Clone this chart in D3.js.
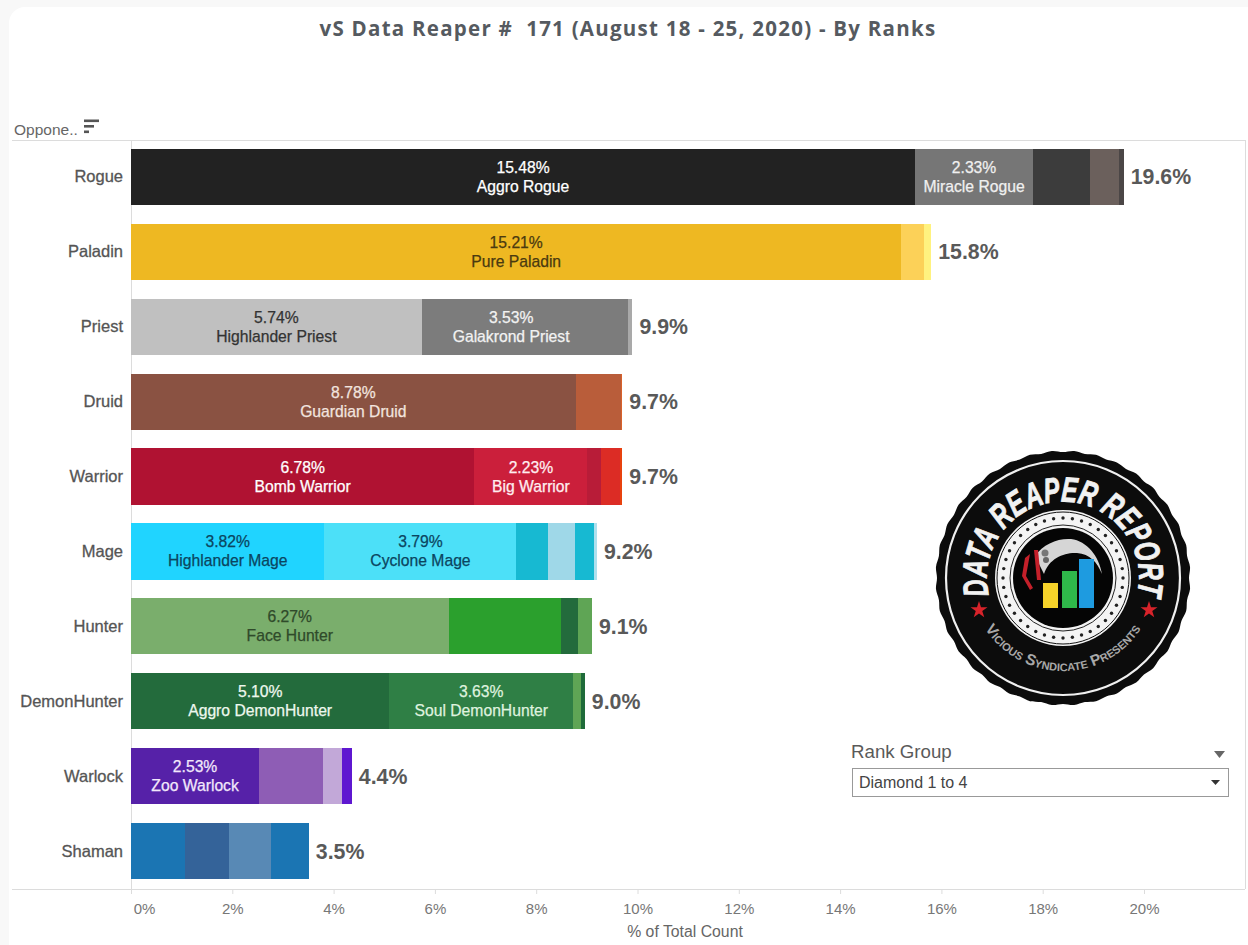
<!DOCTYPE html>
<html>
<head>
<meta charset="utf-8">
<script src="https://cdn.jsdelivr.net/npm/d3@7/dist/d3.min.js"></script>
<style>
  html, body { margin: 0; padding: 0; background: #f8f8f8; overflow: hidden; }
  svg { display: block; }
  text { font-family: "Liberation Sans", Arial, sans-serif; }
</style>
</head>
<body>
<svg id="chart" width="1248" height="945"></svg>
<script>
// Opponent classes, largest share first
const classes = ["Rogue", "Paladin", "Priest", "Druid", "Warrior", "Mage", "Hunter", "DemonHunter", "Warlock", "Shaman"];

// Share of games (%) of each archetype within a class
const rogueShares = [15.48, 2.33, 1.13, 0.56, 0.10];
const paladinShares = [15.21, 0.45, 0.14];
const priestShares = [5.74, 3.53, 0.54, 0.09];
const druidShares = [8.78, 0.89, 0.03];
const warriorShares = [6.78, 2.23, 0.26, 0.39, 0.04];
const mageShares = [3.82, 3.79, 0.63, 0.53, 0.38, 0.05];
const hunterShares = [6.27, 2.22, 0.34, 0.27];
const demonHunterShares = [5.10, 3.63, 0.16, 0.07];
const warlockShares = [2.53, 1.26, 0.37, 0.20];
const shamanShares = [1.06, 0.88, 0.82, 0.75];
const sharesByClass = [rogueShares, paladinShares, priestShares, druidShares, warriorShares,
                       mageShares, hunterShares, demonHunterShares, warlockShares, shamanShares];

// Named archetypes, in stacking order; unnamed segments carry no label
const archetypeNames = [
  ["Aggro Rogue", "Miracle Rogue"],
  ["Pure Paladin"],
  ["Highlander Priest", "Galakrond Priest"],
  ["Guardian Druid"],
  ["Bomb Warrior", "Big Warrior"],
  ["Highlander Mage", "Cyclone Mage"],
  ["Face Hunter"],
  ["Aggro DemonHunter", "Soul DemonHunter"],
  ["Zoo Warlock"],
  []
];

const xTicks = [0, 2, 4, 6, 8, 10, 12, 14, 16, 18, 20];

// Segment fills per class
const segmentColors = [
  ["#222222", "#767676", "#3c3c3c", "#6b605c", "#4b4646"],
  ["#eeb822", "#fcd158", "#fff27f"],
  ["#c0c0c0", "#7c7c7c", "#7c7c7c", "#a9a9a9"],
  ["#8a5242", "#b95d3a", "#d9622b"],
  ["#b01232", "#cb1f3b", "#b81c38", "#dc2c25", "#e8420e"],
  ["#20d4ff", "#4ce0f8", "#17b9d2", "#9fd8e8", "#17b9d2", "#aee0ee"],
  ["#7aae6c", "#2ba02d", "#236b3c", "#5fa555"],
  ["#236b3c", "#2f7f45", "#5fa555", "#1f6b3a"],
  ["#5621a8", "#8e5db5", "#c2a8d8", "#5e17d0"],
  ["#1b75b3", "#346399", "#5889b5", "#1b75b3"]
];
// Label ink per class/segment
const labelColors = [
  ["#ffffff", "#f0f0f0"], ["#4a3a10"], ["#333333", "#f2f2f2"], ["#f2e4df"],
  ["#ffffff", "#ffeef0"], ["#0b4560", "#0b4560"], ["#2f4a2a"],
  ["#eef8ee", "#dff2df"], ["#f2e8fb"], []
];

const svg = d3.select("#chart");

// Page card
svg.append("rect").attr("x", 9).attr("y", 7).attr("width", 1260).attr("height", 960)
  .attr("rx", 16).attr("fill", "#ffffff");

const x = d3.scaleLinear().domain([0, 20]).range([131, 1144]);
const y = d3.scaleBand().domain(classes).range([139, 889]).paddingInner(0.2533).paddingOuter(0.1267);

// Title
svg.append("text").attr("x", 628).attr("y", 36).attr("text-anchor", "middle")
  .style("font-family", "'Open Sans', sans-serif").style("font-weight", 700)
  .style("font-size", "20.5px").style("letter-spacing", "1.25px").attr("fill", "#555a60")
  .attr("xml:space", "preserve")
  .text("vS Data Reaper #  171 (August 18 - 25, 2020) - By Ranks");

// Plot frame
const rule = "#dcdcdc";
svg.append("line").attr("x1", 12).attr("x2", 1245).attr("y1", 140.5).attr("y2", 140.5).attr("stroke", rule);
svg.append("line").attr("x1", 1245.5).attr("x2", 1245.5).attr("y1", 140).attr("y2", 889).attr("stroke", rule);
svg.append("line").attr("x1", 131.5).attr("x2", 131.5).attr("y1", 140).attr("y2", 889).attr("stroke", rule);

// Header of the class column with its sort glyph
svg.append("text").attr("x", 14).attr("y", 135).style("font-size", "15.5px").attr("fill", "#666").text("Oppone..");
const sortGlyph = svg.append("g").attr("fill", "#555");
[[15, 119.5], [10, 125], [5, 130.5]].forEach(([w, gy]) =>
  sortGlyph.append("rect").attr("x", 84).attr("y", gy).attr("width", w).attr("height", 2.6));

// Stacked bars
classes.forEach((cls, i) => {
  const row = svg.append("g").attr("class", "row");
  const shares = sharesByClass[i];
  const ends = d3.cumsum(shares);
  const total = ends[ends.length - 1];

  row.selectAll("rect").data(shares).join("rect")
    .attr("x", (d, j) => x(ends[j] - d))
    .attr("y", y(cls))
    .attr("width", (d) => x(d) - x(0))
    .attr("height", y.bandwidth())
    .attr("shape-rendering", "crispEdges")
    .attr("fill", (d, j) => segmentColors[i][j]);

  const cy = y(cls) + y.bandwidth() / 2;

  archetypeNames[i].forEach((name, j) => {
    const cx = x(ends[j] - shares[j] / 2);
    const ink = labelColors[i][j];
    [[cy - 4, d3.format(".2f")(shares[j]) + "%"], [cy + 15, name]].forEach(([ty, label]) =>
      row.append("text").attr("x", cx).attr("y", ty).attr("text-anchor", "middle")
        .style("font-size", "15.7px").attr("fill", ink)
        .attr("stroke", ink).attr("stroke-width", 0.25).text(label));
  });

  // Class name on the left
  row.append("text").attr("x", 123).attr("y", cy + 5.5).attr("text-anchor", "end")
    .style("font-size", "16.5px").attr("fill", "#555")
    .attr("stroke", "#555").attr("stroke-width", 0.3).text(cls);

  // Class total at the end of the bar
  row.append("text").attr("x", x(total) + 7).attr("y", cy + 7.5)
    .style("font-size", "21.3px").style("font-weight", 700).attr("fill", "#595959")
    .text(d3.format(".1f")(total) + "%");
});

// Value axis
const axis = svg.append("g").attr("transform", "translate(0,889)")
  .call(d3.axisBottom(x).tickValues(xTicks).tickFormat((d) => d + "%").tickSize(5).tickPadding(9));
axis.select(".domain").remove();
axis.selectAll(".tick line").attr("stroke", rule);
axis.selectAll(".tick text").style("font-size", "15px")
  .style("font-family", "'Liberation Sans', Arial, sans-serif").attr("fill", "#777");
// The first tick label sits right of its tick so it stays inside the pane
axis.selectAll(".tick text").filter((d) => d === 0).attr("dx", 13);
svg.append("line").attr("x1", 12).attr("x2", 1245).attr("y1", 889.5).attr("y2", 889.5).attr("stroke", rule);
svg.append("text").attr("x", 685).attr("y", 937).attr("text-anchor", "middle")
  .style("font-size", "15.8px").attr("fill", "#666").text("% of Total Count");

// Rank filter control
svg.append("text").attr("x", 851).attr("y", 758).style("font-size", "18.7px").attr("fill", "#5a5a5a").text("Rank Group");
svg.append("path").attr("d", "M1214,751 h11 l-5.5,7 z").attr("fill", "#666");
svg.append("rect").attr("x", 852.5).attr("y", 768.5).attr("width", 376).attr("height", 28)
  .attr("fill", "#fff").attr("stroke", "#999");
svg.append("text").attr("x", 859).attr("y", 788).style("font-size", "16px").attr("fill", "#444").text("Diamond 1 to 4");
svg.append("path").attr("d", "M1211,780 h9 l-4.5,5 z").attr("fill", "#333");

// Report badge
const badge = svg.append("g").attr("transform", "translate(1063,578)");
const scallop = d3.lineRadial().curve(d3.curveCardinalClosed)
  .angle((d) => d * Math.PI / 36)
  .radius((d) => (d % 2 ? 127.5 : 126));
badge.append("path").attr("d", scallop(d3.range(72))).attr("fill", "#0c0c0c");
badge.append("circle").attr("r", 117).attr("fill", "none").attr("stroke", "#f0f0f0").attr("stroke-width", 2.2);
badge.append("circle").attr("r", 68).attr("fill", "#f4f4f4");
badge.append("circle").attr("r", 66).attr("fill", "none").attr("stroke", "#111").attr("stroke-width", 1);
d3.range(40).forEach((k) => {
  const a = k * Math.PI / 20;
  badge.append("circle").attr("cx", 60 * Math.cos(a)).attr("cy", 60 * Math.sin(a))
    .attr("r", 1.7).attr("fill", "#222");
});
badge.append("circle").attr("r", 53).attr("fill", "#f4f4f4").attr("stroke", "#222").attr("stroke-width", 1);
badge.append("circle").attr("r", 50).attr("fill", "#050505");

// Crescent blade and figure inside the badge
badge.append("path")
  .attr("d", "M-28,-22 C-20,-34 -5,-40 8,-39 C24,-37 36,-22 39,-4 C34,-16 27,-24 14,-25 C2,-26 -14,-20 -19,-4 C-22,-10 -25,-16 -28,-22 Z")
  .attr("fill", "#d6d6d6");
badge.append("circle").attr("cx", -18).attr("cy", -25).attr("r", 3.5).attr("fill", "#777");
badge.append("circle").attr("cx", -17).attr("cy", -18).attr("r", 3).attr("fill", "#666");
badge.append("path").attr("d", "M-38,-20 L-33,-24 L-37,-2 L-30,10 L-33,12 L-41,-2 Z").attr("fill", "#c4202a");
badge.append("path").attr("d", "M-29,-28 L-25,-28 L-22,2 L-26,2 Z").attr("fill", "#c4202a");
badge.append("rect").attr("x", -20).attr("y", 5).attr("width", 15).attr("height", 25).attr("fill", "#f6d32a");
badge.append("rect").attr("x", -1).attr("y", -7).attr("width", 15).attr("height", 37).attr("fill", "#2fb84a");
badge.append("rect").attr("x", 16).attr("y", -19).attr("width", 15).attr("height", 49).attr("fill", "#1e9be0");

// Arced lettering
const defs = svg.append("defs");
defs.append("path").attr("id", "arcTop").attr("d", "M-74,17 A76,76 0 1 1 74,17");
defs.append("path").attr("id", "arcBottom").attr("d", "M-82,44 A93,93 0 0 0 82,44");
badge.append("text")
  .attr("textLength", 273).attr("lengthAdjust", "spacingAndGlyphs")
  .append("textPath").attr("href", "#arcTop").attr("startOffset", "0%")
  .style("font-family", "'Liberation Sans', sans-serif")
  .style("font-weight", 700).style("font-style", "italic").style("font-size", "35px")
  .attr("textLength", 273).attr("lengthAdjust", "spacingAndGlyphs")
  .attr("fill", "#f2f2f2").attr("stroke", "#f2f2f2").attr("stroke-width", 0.9)
  .text("DATA REAPER REPORT");
badge.append("text").append("textPath").attr("href", "#arcBottom").attr("startOffset", "50%")
  .attr("text-anchor", "middle")
  .style("font-size", "15.5px").style("font-weight", 700).style("font-variant", "small-caps")
  .attr("fill", "#a8a8a8").text("Vicious Syndicate Presents");

// Red stars either side of the lower lettering
const star = d3.symbol().type(d3.symbolStar).size(90);
[[-84, 32], [86, 32]].forEach(([sx, sy]) =>
  badge.append("path").attr("d", star()).attr("transform", `translate(${sx},${sy})`).attr("fill", "#d8232a"));
</script>
</body>
</html>
